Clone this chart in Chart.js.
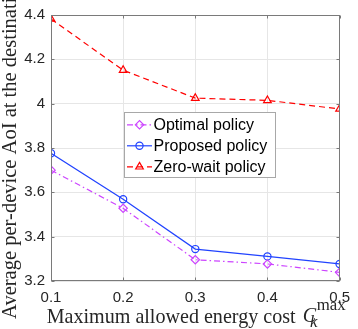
<!DOCTYPE html>
<html><head><meta charset="utf-8">
<script src="https://cdn.jsdelivr.net/npm/chart.js@4.4.0/dist/chart.umd.min.js"></script>
<style>html,body{margin:0;padding:0;background:#fff;overflow:hidden}canvas{display:block}</style>
</head><body>
<canvas id="c" width="358" height="329"></canvas>
<script>
// ---- data ----
const energyCost   = [0.1, 0.2, 0.3, 0.4, 0.5];
const optimalAoI   = [3.700, 3.528, 3.296, 3.277, 3.239];
const proposedAoI  = [3.776, 3.569, 3.344, 3.311, 3.277];
const zeroWaitAoI  = [4.382, 4.151, 4.025, 4.015, 3.976];
const seriesLabels = ['Optimal policy', 'Proposed policy', 'Zero-wait policy'];
const xTickValues  = [0.1, 0.2, 0.3, 0.4, 0.5];
const yTickValues  = [3.2, 3.4, 3.6, 3.8, 4.0, 4.2, 4.4];
const yTitleText   = 'Average per-device AoI at the destination';
const xTitleMain   = 'Maximum allowed energy cost';
const xTitleVar    = 'C';
const xTitleSub    = 'k';
const xTitleSup    = 'max';

// ---- styles ----
const AXIS = '#7a7a7a';
const TEXT = '#262626';
const SANS = "'Liberation Sans', Arial, sans-serif";
const SERIF = "'Liberation Serif', 'Times New Roman', serif";
const C_OPT = '#cc44ff', C_PRO = '#2143ff', C_ZW = '#ff0000';
const DASH_OPT = [6, 3, 1.5, 3], DASH_ZW = [6, 4];

const pts = arr => energyCost.map((x, i) => ({x, y: arr[i]}));

const datasets = [
  {label: seriesLabels[0], data: pts(optimalAoI), borderColor: C_OPT, borderDash: DASH_OPT,
   pointStyle: 'rectRot', pointRadius: 4.2},
  {label: seriesLabels[1], data: pts(proposedAoI), borderColor: C_PRO, borderDash: [],
   pointStyle: 'circle', pointRadius: 3.6},
  {label: seriesLabels[2], data: pts(zeroWaitAoI), borderColor: C_ZW, borderDash: DASH_ZW,
   pointStyle: 'triangle', pointRadius: 4.4}
].map(d => Object.assign({
  borderWidth: 1.2, pointBorderColor: d.borderColor, pointBackgroundColor: 'rgba(0,0,0,0)',
  pointBorderWidth: 1.2, fill: false, tension: 0
}, d));

// fit a text's font size so that it has the given width
function fitSize(ctx, text, style, family, target) {
  ctx.font = style + '100px ' + family;
  return 100 * target / ctx.measureText(text).width;
}

const deco = {
  id: 'deco',
  afterDraw(chart) {
    const {ctx, chartArea: a, scales: {x, y}} = chart;
    ctx.save();
    // box
    const L = Math.round(a.left) + 0.5, R = Math.round(a.right) - 0.5;
    const T = Math.round(a.top) + 0.5, B = Math.round(a.bottom) - 0.5;
    ctx.strokeStyle = AXIS; ctx.lineWidth = 1; ctx.setLineDash([]);
    ctx.strokeRect(L, T, R - L, B - T);
    // inner tick marks
    const tl = 3;
    ctx.beginPath();
    xTickValues.forEach(v => {
      const px = Math.round(x.getPixelForValue(v)) + 0.5;
      ctx.moveTo(px, B); ctx.lineTo(px, B - tl);
      ctx.moveTo(px, T); ctx.lineTo(px, T + tl);
    });
    yTickValues.forEach(v => {
      const py = Math.round(y.getPixelForValue(v)) + 0.5;
      ctx.moveTo(L, py); ctx.lineTo(L + tl, py);
      ctx.moveTo(R, py); ctx.lineTo(R - tl, py);
    });
    ctx.stroke();

    // legend
    const lx = 124.5, ly = 112.5, lw = 151, lh = 65;
    ctx.fillStyle = '#ffffff'; ctx.fillRect(lx, ly, lw, lh);
    ctx.strokeStyle = '#a8a8a8'; ctx.strokeRect(lx, ly, lw, lh);
    const rows = [124.8, 145.8, 166.8];
    datasets.forEach((d, i) => {
      const ry = rows[i];
      ctx.strokeStyle = d.borderColor; ctx.lineWidth = 1.2;
      ctx.setLineDash(d.borderDash);
      ctx.beginPath(); ctx.moveTo(127, ry); ctx.lineTo(152, ry); ctx.stroke();
      ctx.setLineDash([]);
      ctx.fillStyle = 'rgba(0,0,0,0)';
      Chart.helpers.drawPoint(ctx, {pointStyle: d.pointStyle, radius: d.pointRadius, rotation: 0, borderWidth: 1.2}, 139.5, ry);
      ctx.fillStyle = '#000000';
      ctx.font = '16px ' + SANS;
      ctx.textAlign = 'left'; ctx.textBaseline = 'middle';
      ctx.fillText(d.label, 153.5, ry + 0.5);
    });

    // y title (rotated, centred on plot, overflows top as in reference)
    ctx.fillStyle = TEXT;
    const ys = fitSize(ctx, yTitleText, '', SERIF, 342);
    ctx.font = ys.toFixed(2) + 'px ' + SERIF;
    ctx.save();
    ctx.translate(15.5, (a.top + a.bottom) / 2);
    ctx.rotate(-Math.PI / 2);
    ctx.textAlign = 'center'; ctx.textBaseline = 'alphabetic';
    ctx.fillText(yTitleText, 0, 0);
    ctx.restore();

    // x title with sub/superscript
    ctx.textAlign = 'left'; ctx.textBaseline = 'alphabetic';
    const mainS = fitSize(ctx, xTitleMain, '', SERIF, 249);
    ctx.font = mainS.toFixed(2) + 'px ' + SERIF;
    ctx.fillText(xTitleMain, 46.7, 322.5);
    ctx.font = 'italic ' + mainS.toFixed(2) + 'px ' + SERIF;
    ctx.fillText(xTitleVar, 302.7, 321.5);
    const supS = fitSize(ctx, xTitleSup, '', SERIF, 29);
    ctx.font = supS.toFixed(2) + 'px ' + SERIF;
    ctx.fillText(xTitleSup, 316.7, 310);
    ctx.font = 'italic ' + (supS).toFixed(2) + 'px ' + SERIF;
    ctx.fillText(xTitleSub, 310, 326.5);
    ctx.restore();
  }
};

new Chart(document.getElementById('c'), {
  type: 'line',
  data: {datasets},
  options: {
    responsive: false, animation: false, devicePixelRatio: 1,
    layout: {padding: {top: 11, right: 11, left: 0, bottom: 0}},
    plugins: {legend: {display: false}, tooltip: {enabled: false}},
    scales: {
      x: {
        type: 'linear', min: 0.1, max: 0.5,
        afterBuildTicks: s => { s.ticks = xTickValues.map(v => ({value: v})); },
        afterFit: s => { s.height = 48; },
        grid: {color: '#e6e6e6', drawTicks: false, lineWidth: 1},
        border: {display: false},
        ticks: {padding: 8, color: TEXT, font: {family: SANS, size: 15},
                callback: v => Number(v.toFixed(1)).toString(), maxRotation: 0}
      },
      y: {
        type: 'linear', min: 3.2, max: 4.4,
        afterBuildTicks: s => { s.ticks = yTickValues.map(v => ({value: v})); },
        afterFit: s => { s.width = 51; },
        grid: {color: '#e6e6e6', drawTicks: false, lineWidth: 1},
        border: {display: false},
        ticks: {padding: 6, color: TEXT, font: {family: SANS, size: 15},
                callback: v => Number(v.toFixed(1)).toString()}
      }
    }
  },
  plugins: [deco]
});
</script>
</body></html>
